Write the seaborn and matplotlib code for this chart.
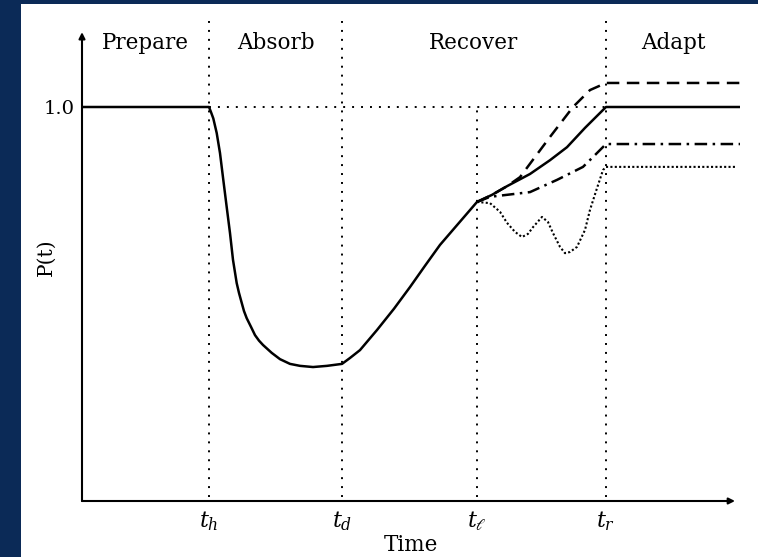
import numpy as np
import pandas as pd
import matplotlib
matplotlib.use("Agg")
import matplotlib.pyplot as plt
import seaborn as sns

# ---- data -------------------------------------------------------------
# phase boundary times
t_marks = [1.27, 2.60, 3.95, 5.24]
t_labels = [r"$t_h$", r"$t_d$", r"$t_\ell$", r"$t_r$"]
phase_names = ["Prepare", "Absorb", "Recover", "Adapt"]

# baseline performance curve (disruption, absorption, recovery)
base_t = [0.00, 1.27, 1.29, 1.313, 1.347, 1.38, 1.413, 1.447, 1.48, 1.51,
          1.547, 1.57, 1.597, 1.62, 1.647, 1.69, 1.73, 1.77, 1.81, 1.897,
          1.98, 2.08, 2.18, 2.31, 2.45, 2.60, 2.68, 2.78, 2.95, 3.12,
          3.28, 3.43, 3.58, 3.77, 3.95, 4.10, 4.25, 4.48, 4.68, 4.85,
          5.03, 5.24, 6.58]
base_p = [1.000, 1.000, 0.987, 0.971, 0.934, 0.883, 0.815, 0.746, 0.680, 0.612,
          0.553, 0.528, 0.503, 0.482, 0.464, 0.442, 0.421, 0.407, 0.396, 0.376,
          0.360, 0.348, 0.343, 0.340, 0.343, 0.348, 0.363, 0.383, 0.434, 0.488,
          0.543, 0.597, 0.650, 0.706, 0.759, 0.777, 0.799, 0.830, 0.865, 0.898,
          0.947, 1.000, 1.000]

# alternative recovery paths after t_l
better_t = [3.95, 4.10, 4.25, 4.38, 4.68, 4.91, 5.08, 5.24, 6.58]
better_p = [0.759, 0.777, 0.799, 0.822, 0.924, 1.000, 1.043, 1.061, 1.061]

partial_t = [3.95, 4.08, 4.48, 4.75, 5.01, 5.11, 5.24, 6.58]
partial_p = [0.759, 0.772, 0.784, 0.815, 0.848, 0.873, 0.906, 0.906]

erratic_t = [3.95, 4.08, 4.18, 4.25, 4.33, 4.40, 4.46, 4.51, 4.60, 4.66,
             4.71, 4.78, 4.83, 4.88, 4.95, 5.03, 5.08, 5.15, 5.21, 5.24, 6.53]
erratic_p = [0.759, 0.756, 0.734, 0.706, 0.683, 0.670, 0.678, 0.695, 0.721, 0.708,
             0.680, 0.645, 0.629, 0.632, 0.645, 0.688, 0.739, 0.794, 0.840, 0.848, 0.848]

# ---- figure -------------------------------------------------------------
sns.set_theme(style="white")
plt.rcParams["font.family"] = ["DejaVu Serif"]
plt.rcParams["mathtext.fontset"] = "dejavuserif"
plt.rcParams["text.color"] = "black"
plt.rcParams["axes.labelcolor"] = "black"
plt.rcParams["xtick.color"] = "black"
plt.rcParams["ytick.color"] = "black"
plt.rcParams["lines.solid_capstyle"] = "round"

W, H = 758, 557
fig = plt.figure(figsize=(W / 100, H / 100), dpi=100, facecolor="#0b2a57")

# white slide panel behind the chart
panel = fig.add_axes([21 / W, 0, 1 - 21 / W, 1 - 4 / H])
panel.set_facecolor("white")
panel.set_xticks([])
panel.set_yticks([])
for s in panel.spines.values():
    s.set_visible(False)
panel.set_zorder(0)

ymax = 1.24
ax_left, ax_right = 82, 740
ax_bottom = 501
ax_top = ax_bottom - 394 * ymax
ax = fig.add_axes([ax_left / W, (H - ax_bottom) / H,
                   (ax_right - ax_left) / W, (ax_bottom - ax_top) / H])
ax.set_zorder(1)
ax.set_facecolor("none")
ax.set_xlim(0, 6.58)
ax.set_ylim(0, ymax)
for s in ax.spines.values():
    s.set_visible(False)

lw = 1.8
sns.lineplot(x=base_t, y=base_p, ax=ax, color="black", lw=lw,
             estimator=None, sort=False, zorder=5)
sns.lineplot(x=better_t, y=better_p, ax=ax, color="black", lw=lw,
             linestyle=(0, (5, 3)), estimator=None, sort=False, zorder=4)
sns.lineplot(x=partial_t, y=partial_p, ax=ax, color="black", lw=lw,
             linestyle=(0, (5, 2.2, 1, 2.2)), estimator=None, sort=False, zorder=4)
sns.lineplot(x=erratic_t, y=erratic_p, ax=ax, color="black", lw=1.5,
             linestyle=(0, (1, 1.1)), estimator=None, sort=False, zorder=4)

# phase boundaries and nominal level
dot = dict(color="black", lw=1.4, linestyle=(0, (1, 3.6)), zorder=2)
for t in t_marks:
    top = 1.0 if t == t_marks[2] else 1.226
    ax.plot([t, t], [0.01, top], **dot)
ax.plot([t_marks[0], t_marks[3]], [1.0, 1.0], **dot)

# arrowed axes
arrow = dict(arrowstyle="-|>", color="black", lw=1.5, mutation_scale=9,
             shrinkA=0, shrinkB=0)
ax.annotate("", xy=(6.53, 0), xytext=(0, 0), arrowprops=arrow,
            annotation_clip=False)
ax.annotate("", xy=(0, 1.19), xytext=(0, 0), arrowprops=arrow,
            annotation_clip=False)

# ticks and labels
ax.set_xticks(t_marks)
ax.set_xticklabels(t_labels, fontsize=16)
ax.set_yticks([1.0])
ax.set_yticklabels(["1.0"], fontsize=14)
ax.tick_params(axis="x", length=0, pad=6)
ax.tick_params(axis="y", length=0, pad=5)
ax.set_xlabel("Time", fontsize=15.5, labelpad=1)
ax.set_ylabel("P(t)", fontsize=14.5)
ax.yaxis.set_label_coords(-0.04, 0.5)

bounds = [0.0] + [t_marks[0], t_marks[1], t_marks[3]] + [6.58]
for name, a, b in zip(phase_names, bounds[:-1], bounds[1:]):
    ax.text((a + b) / 2, 1.162, name, ha="center", va="center", fontsize=15.5)

fig.savefig("out.png", dpi=100, facecolor=fig.get_facecolor())
